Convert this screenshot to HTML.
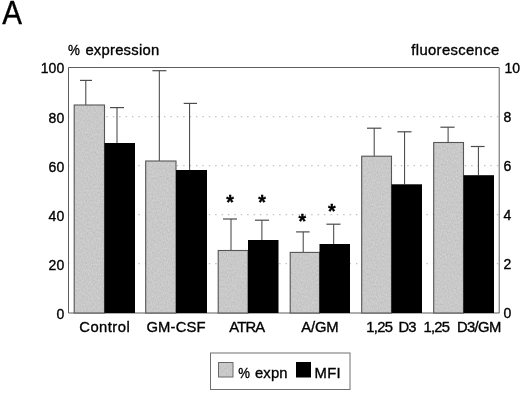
<!DOCTYPE html>
<html lang="en"><head><meta charset="utf-8"><title>Figure A</title>
<style>html,body{margin:0;padding:0;background:#fff;}svg{display:block;will-change:transform;}text{font-family:"Liberation Sans", sans-serif;fill:#000;stroke:#000;stroke-width:0.35px;}</style></head>
<body>
<svg width="520" height="393" viewBox="0 0 520 393">
<rect x="0" y="0" width="520" height="393" fill="#fff"/>
<defs><filter id="gnoise" x="0" y="0" width="100%" height="100%" color-interpolation-filters="sRGB"><feTurbulence type="fractalNoise" baseFrequency="0.8 0.5" numOctaves="2" seed="7" result="t"/><feColorMatrix in="t" type="matrix" values="0.13 0 0 0 0.722  0.13 0 0 0 0.722  0.13 0 0 0 0.722  0 0 0 0 1" result="m"/><feComposite in="m" in2="SourceGraphic" operator="in"/></filter></defs>
<text transform="translate(2.3,24.2) scale(0.94,1.04)" x="0" y="0" font-size="31.5" stroke-width="0.45">A</text>
<line x1="68.05" y1="263.62" x2="499.2" y2="263.62" stroke="#bdbdbd" stroke-width="1.2" stroke-dasharray="1.3 5.1"/>
<line x1="68.05" y1="214.64" x2="499.2" y2="214.64" stroke="#bdbdbd" stroke-width="1.2" stroke-dasharray="1.3 5.1"/>
<line x1="68.05" y1="165.66" x2="499.2" y2="165.66" stroke="#bdbdbd" stroke-width="1.2" stroke-dasharray="1.3 5.1"/>
<line x1="68.05" y1="116.68" x2="499.2" y2="116.68" stroke="#bdbdbd" stroke-width="1.2" stroke-dasharray="1.3 5.1"/>
<path d="M68.5 67.5 H499.2 V313.0 H68.5 Z" fill="none" stroke="#5e5e5e" stroke-width="1"/>
<path d="M85.8 80.40 V105.00" fill="none" stroke="#3e3e3e" stroke-width="1"/><path d="M80.0 80.40 H92.0" fill="none" stroke="#4c4c4c" stroke-width="1.2"/>
<path d="M117.0 107.60 V143.00" fill="none" stroke="#3e3e3e" stroke-width="1"/><path d="M110.0 107.60 H124.0" fill="none" stroke="#4c4c4c" stroke-width="1.2"/>
<path d="M159.3 70.70 V161.00" fill="none" stroke="#3e3e3e" stroke-width="1"/><path d="M152.4 70.70 H166.4" fill="none" stroke="#4c4c4c" stroke-width="1.2"/>
<path d="M189.6 103.40 V170.00" fill="none" stroke="#3e3e3e" stroke-width="1"/><path d="M183.7 103.40 H197.0" fill="none" stroke="#4c4c4c" stroke-width="1.2"/>
<path d="M231.0 219.00 V250.50" fill="none" stroke="#3e3e3e" stroke-width="1"/><path d="M223.0 219.00 H237.0" fill="none" stroke="#4c4c4c" stroke-width="1.2"/>
<path d="M261.9 220.20 V240.00" fill="none" stroke="#3e3e3e" stroke-width="1"/><path d="M255.0 220.20 H269.0" fill="none" stroke="#4c4c4c" stroke-width="1.2"/>
<path d="M303.2 231.90 V252.00" fill="none" stroke="#3e3e3e" stroke-width="1"/><path d="M296.1 231.90 H309.6" fill="none" stroke="#4c4c4c" stroke-width="1.2"/>
<path d="M333.7 224.20 V244.00" fill="none" stroke="#3e3e3e" stroke-width="1"/><path d="M326.4 224.20 H340.5" fill="none" stroke="#4c4c4c" stroke-width="1.2"/>
<path d="M374.2 128.20 V156.20" fill="none" stroke="#3e3e3e" stroke-width="1"/><path d="M367.0 128.20 H381.4" fill="none" stroke="#4c4c4c" stroke-width="1.2"/>
<path d="M404.6 131.80 V184.30" fill="none" stroke="#3e3e3e" stroke-width="1"/><path d="M397.4 131.80 H411.5" fill="none" stroke="#4c4c4c" stroke-width="1.2"/>
<path d="M448.1 127.20 V142.50" fill="none" stroke="#3e3e3e" stroke-width="1"/><path d="M440.4 127.20 H454.6" fill="none" stroke="#4c4c4c" stroke-width="1.2"/>
<path d="M478.4 146.50 V175.20" fill="none" stroke="#3e3e3e" stroke-width="1"/><path d="M470.8 146.50 H484.6" fill="none" stroke="#4c4c4c" stroke-width="1.2"/>
<rect x="74.2" y="105.0" width="30.3" height="208.0" fill="#c8c8c8"/><rect x="74.2" y="105.0" width="30.3" height="208.0" fill="#c8c8c8" filter="url(#gnoise)"/><rect x="74.2" y="105.0" width="30.3" height="208.0" fill="none" stroke="#565656" stroke-width="1.1"/>
<rect x="104.5" y="143.0" width="30.5" height="170.0" fill="#000"/>
<rect x="145.7" y="161.0" width="30.3" height="152.0" fill="#c8c8c8"/><rect x="145.7" y="161.0" width="30.3" height="152.0" fill="#c8c8c8" filter="url(#gnoise)"/><rect x="145.7" y="161.0" width="30.3" height="152.0" fill="none" stroke="#565656" stroke-width="1.1"/>
<rect x="176.0" y="170.0" width="31.0" height="143.0" fill="#000"/>
<rect x="218.2" y="250.5" width="29.8" height="62.5" fill="#c8c8c8"/><rect x="218.2" y="250.5" width="29.8" height="62.5" fill="#c8c8c8" filter="url(#gnoise)"/><rect x="218.2" y="250.5" width="29.8" height="62.5" fill="none" stroke="#565656" stroke-width="1.1"/>
<rect x="248.0" y="240.0" width="30.5" height="73.0" fill="#000"/>
<rect x="290.2" y="252.4" width="29.3" height="60.6" fill="#c8c8c8"/><rect x="290.2" y="252.4" width="29.3" height="60.6" fill="#c8c8c8" filter="url(#gnoise)"/><rect x="290.2" y="252.4" width="29.3" height="60.6" fill="none" stroke="#565656" stroke-width="1.1"/>
<rect x="319.5" y="244.0" width="30.5" height="69.0" fill="#000"/>
<rect x="361.7" y="156.2" width="29.8" height="156.8" fill="#c8c8c8"/><rect x="361.7" y="156.2" width="29.8" height="156.8" fill="#c8c8c8" filter="url(#gnoise)"/><rect x="361.7" y="156.2" width="29.8" height="156.8" fill="none" stroke="#565656" stroke-width="1.1"/>
<rect x="391.5" y="184.3" width="30.5" height="128.7" fill="#000"/>
<rect x="433.7" y="142.5" width="29.8" height="170.5" fill="#c8c8c8"/><rect x="433.7" y="142.5" width="29.8" height="170.5" fill="#c8c8c8" filter="url(#gnoise)"/><rect x="433.7" y="142.5" width="29.8" height="170.5" fill="none" stroke="#565656" stroke-width="1.1"/>
<rect x="463.5" y="175.2" width="30.5" height="137.8" fill="#000"/>
<text x="230.1" y="208.8" font-size="19.6" font-weight="bold" text-anchor="middle" stroke-width="0.12">*</text>
<text x="262.0" y="208.8" font-size="19.6" font-weight="bold" text-anchor="middle" stroke-width="0.12">*</text>
<text x="302.3" y="227.6" font-size="19.6" font-weight="bold" text-anchor="middle" stroke-width="0.12">*</text>
<text x="331.9" y="217.5" font-size="19.6" font-weight="bold" text-anchor="middle" stroke-width="0.12">*</text>
<text x="64.2" y="319.0" font-size="14.0" text-anchor="end">0</text>
<text x="64.2" y="270.0" font-size="14.0" text-anchor="end">20</text>
<text x="64.2" y="221.0" font-size="14.0" text-anchor="end">40</text>
<text x="64.2" y="172.0" font-size="14.0" text-anchor="end">60</text>
<text x="64.2" y="123.0" font-size="14.0" text-anchor="end">80</text>
<text x="64.2" y="73.0" font-size="14.0" text-anchor="end">100</text>
<text x="503.6" y="318.0" font-size="14.0">0</text>
<text x="503.6" y="269.0" font-size="14.0">2</text>
<text x="503.6" y="220.0" font-size="14.0">4</text>
<text x="503.6" y="171.0" font-size="14.0">6</text>
<text x="503.6" y="122.0" font-size="14.0">8</text>
<text x="504.5" y="73.0" font-size="14.0">10</text>
<rect x="210.5" y="353" width="139.5" height="36.5" fill="#fff" stroke="#707070" stroke-width="1"/>
<rect x="218.5" y="362.5" width="14.5" height="14.5" fill="#c8c8c8"/><rect x="218.5" y="362.5" width="14.5" height="14.5" fill="#c8c8c8" filter="url(#gnoise)"/><rect x="218.5" y="362.5" width="14.5" height="14.5" fill="none" stroke="#6a6a6a" stroke-width="1"/>
<rect x="296" y="362" width="15" height="15.5" fill="#000"/>
<text id="w_control" x="79.30" y="332.0" font-size="14.8" textLength="50.41" lengthAdjust="spacing">Control</text>
<text id="w_gmcsf" x="146.40" y="332.0" font-size="14.8" textLength="59.20" lengthAdjust="spacing">GM-CSF</text>
<text id="w_atra" x="229.15" y="332.0" font-size="14.8" textLength="36.00" lengthAdjust="spacing">ATRA</text>
<text id="w_agm" x="301.35" y="332.0" font-size="14.8" textLength="37.23" lengthAdjust="spacing">A/GM</text>
<text id="w_125a" x="366.30" y="332.0" font-size="14.8" textLength="26.70" lengthAdjust="spacing">1,25</text>
<text id="w_d3" x="398.60" y="332.0" font-size="14.8" textLength="18.00" lengthAdjust="spacing">D3</text>
<text id="w_125b" x="423.40" y="332.0" font-size="14.8" textLength="26.70" lengthAdjust="spacing">1,25</text>
<text id="w_d3gm" x="457.00" y="332.0" font-size="14.8" textLength="44.23" lengthAdjust="spacing">D3/GM</text>
<text id="t_pct" x="68.05" y="55.0" font-size="14.8" textLength="11.90" lengthAdjust="spacingAndGlyphs">%</text>
<text id="t_expr" x="85.40" y="55.0" font-size="14.8" textLength="73.72" lengthAdjust="spacing">expression</text>
<text id="t_fluo" x="411.30" y="55.0" font-size="14.8" textLength="87.91" lengthAdjust="spacing">fluorescence</text>
<text id="l_pct" x="238.25" y="377.6" font-size="14.8" textLength="11.70" lengthAdjust="spacingAndGlyphs">%</text>
<text id="l_expn" x="255.00" y="377.6" font-size="14.8" textLength="32.47" lengthAdjust="spacing">expn</text>
<text id="l_mfi" x="314.50" y="377.6" font-size="14.8" textLength="26.15" lengthAdjust="spacing">MFI</text>
</svg>
</body></html>
